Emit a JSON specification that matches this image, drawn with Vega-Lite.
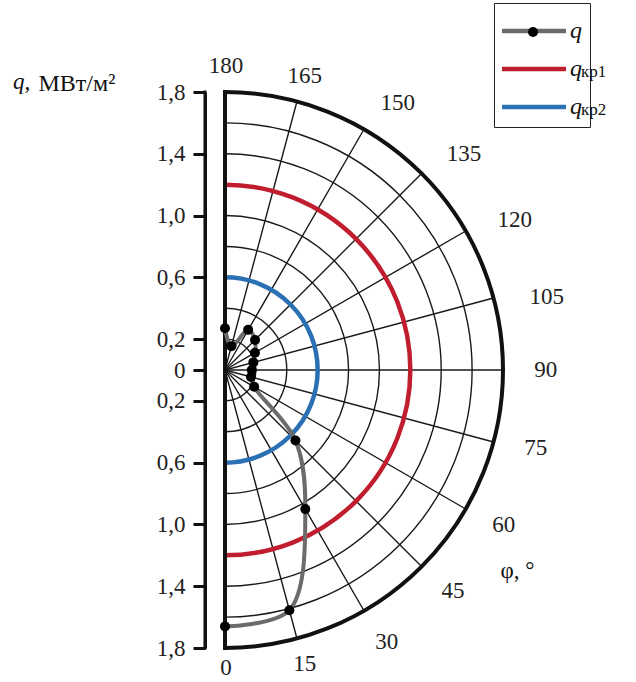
{
  "$schema": "https://vega.github.io/schema/vega-lite/v6.json",
  "width": 298,
  "height": 556,
  "autosize": "none",
  "padding": {"left": 205, "top": 92, "right": 133, "bottom": 34},
  "background": "white",
  "config": {"view": {"stroke": null}, "font": "Liberation Serif"},
  "title": {"text": "q,", "anchor": "start", "frame": "group", "dx": -192, "dy": 109, "offset": 0, "baseline": "alphabetic", "fontStyle": "italic", "fontWeight": "normal", "fontSize": 23, "color": "#111", "font": "Liberation Serif"},
  "datasets": {
    "circles": [{"r": 0.2}, {"r": 0.4}, {"r": 0.6}, {"r": 0.8}, {"r": 1.0}, {"r": 1.2}, {"r": 1.4}, {"r": 1.6}],
    "rays": [{"phi": 0}, {"phi": 15}, {"phi": 30}, {"phi": 45}, {"phi": 60}, {"phi": 75}, {"phi": 90}, {"phi": 105}, {"phi": 120}, {"phi": 135}, {"phi": 150}, {"phi": 165}, {"phi": 180}],
    "crit": [{"series": "qкр1", "q": 1.2}, {"series": "qкр2", "q": 0.6}],
    "qdata": [
      {"series": "q", "phi": 0, "q": 1.66},
      {"series": "q", "phi": 15, "q": 1.61},
      {"series": "q", "phi": 30, "q": 1.04},
      {"series": "q", "phi": 45, "q": 0.645},
      {"series": "q", "phi": 60, "q": 0.218},
      {"series": "q", "phi": 75, "q": 0.174},
      {"series": "q", "phi": 90, "q": 0.173},
      {"series": "q", "phi": 105, "q": 0.19},
      {"series": "q", "phi": 120, "q": 0.224},
      {"series": "q", "phi": 135, "q": 0.275},
      {"series": "q", "phi": 150, "q": 0.3},
      {"series": "q", "phi": 165, "q": 0.16},
      {"series": "q", "phi": 180, "q": 0.27}
    ]
  },
  "layer": [
    {
      "data": {"name": "qdata"},
      "transform": [
        {"calculate": "datum.q * sin(datum.phi * PI / 180)", "as": "qx"},
        {"calculate": "-datum.q * cos(datum.phi * PI / 180)", "as": "qy"}
      ],
      "mark": {"type": "line", "opacity": 0},
      "encoding": {
        "x": {"field": "qx", "type": "quantitative", "scale": {"domain": [-0.1295, 1.8], "nice": false, "zero": false},
          "axis": {"title": "φ, °", "domain": false, "ticks": false, "labels": false, "grid": false, "titleX": 295, "titleY": -71, "titleAlign": "left", "titleBaseline": "alphabetic", "titleFont": "Liberation Serif", "titleFontSize": 23, "titleFontWeight": "normal", "titleColor": "#111"}},
        "y": {"field": "qy", "type": "quantitative", "scale": {"domain": [-1.8, 1.8], "nice": false, "zero": false},
          "axis": {"title": "МВт/м²", "titleAngle": 0, "titleX": -167, "titleY": -2, "titleAlign": "left", "titleBaseline": "alphabetic", "titleFont": "Liberation Serif", "titleFontSize": 24, "titleFontWeight": "normal", "titleColor": "#111",
            "values": [-1.8, -1.4, -1.0, -0.6, -0.2, 0, 0.2, 0.6, 1.0, 1.4, 1.8],
            "labelExpr": "datum.value == 0 ? '0' : replace(format(abs(datum.value), '.1f'), '.', ',')",
            "offset": 0, "zindex": 1, "domain": true, "domainColor": "#111", "domainWidth": 3, "ticks": true, "labels": true, "tickColor": "#111", "tickWidth": 3, "tickSize": 12,
            "labelFont": "Liberation Serif", "labelFontSize": 23, "labelColor": "#222", "labelPadding": 8, "grid": false}}
      }
    },
    {
      "data": {"name": "circles"},
      "mark": {"type": "arc", "filled": false, "stroke": "#1a1a1a", "strokeWidth": 1.4},
      "encoding": {
        "x": {"datum": 0, "type": "quantitative"},
        "y": {"datum": 0, "type": "quantitative"},
        "theta": {"datum": 0, "type": "quantitative", "scale": {"domain": [0, 180], "range": [3.14159265, 0]}},
        "theta2": {"datum": 180},
        "radius": {"field": "r", "type": "quantitative", "scale": {"type": "linear", "domain": [0, 1.8], "range": [0, 278], "zero": true}},
        "radius2": {"field": "r"}
      }
    },
    {
      "data": {"name": "rays"},
      "mark": {"type": "arc", "filled": false, "stroke": "#1a1a1a", "strokeWidth": 1.4},
      "encoding": {
        "x": {"datum": 0, "type": "quantitative"},
        "y": {"datum": 0, "type": "quantitative"},
        "theta": {"field": "phi", "type": "quantitative", "stack": null},
        "theta2": {"field": "phi"},
        "radius": {"datum": 0, "type": "quantitative"},
        "radius2": {"datum": 1.8}
      }
    },
    {
      "data": {"name": "crit"},
      "mark": {"type": "arc", "filled": false, "strokeWidth": 4.5},
      "encoding": {
        "x": {"datum": 0, "type": "quantitative"},
        "y": {"datum": 0, "type": "quantitative"},
        "theta": {"datum": 0, "type": "quantitative"},
        "theta2": {"datum": 180},
        "radius": {"field": "q", "type": "quantitative"},
        "radius2": {"field": "q"},
        "stroke": {"field": "series", "type": "nominal"},
        "opacity": {"field": "series", "type": "ordinal",
          "scale": {"domain": ["qкр1", "qкр2"], "range": [1, 1]},
          "legend": {"orient": "none", "legendX": 359, "legendY": -29, "title": null, "symbolSize": 1, "symbolOpacity": 0, "symbolStrokeWidth": 0,
            "labelExpr": "replace(datum.label, 'q', '')", "labelFont": "Liberation Serif", "labelFontSize": 17, "labelColor": "#111", "labelOffset": 0, "padding": 0, "rowPadding": 20}}
      }
    },
    {
      "data": {"values": [{}]},
      "mark": {"type": "arc", "filled": false, "stroke": "#111", "strokeWidth": 4},
      "encoding": {
        "x": {"datum": 0, "type": "quantitative"},
        "y": {"datum": 0, "type": "quantitative"},
        "theta": {"datum": 0, "type": "quantitative"},
        "theta2": {"datum": 180},
        "radius": {"datum": 1.8, "type": "quantitative"},
        "radius2": {"datum": 1.8}
      }
    },
    {
      "data": {"values": [{}]},
      "mark": {"type": "rule", "stroke": "#111", "strokeWidth": 4, "strokeCap": "square"},
      "encoding": {
        "x": {"datum": 0, "type": "quantitative"},
        "y": {"datum": -1.8, "type": "quantitative"},
        "y2": {"datum": 1.8}
      }
    },
    {
      "data": {"name": "qdata"},
      "transform": [
        {"calculate": "datum.q * sin(datum.phi * PI / 180)", "as": "qx"},
        {"calculate": "-datum.q * cos(datum.phi * PI / 180)", "as": "qy"}
      ],
      "mark": {"type": "line", "interpolate": "catmull-rom", "strokeWidth": 4},
      "encoding": {
        "x": {"field": "qx", "type": "quantitative"},
        "y": {"field": "qy", "type": "quantitative"},
        "order": {"field": "phi"},
        "stroke": {"field": "series", "type": "nominal",
          "scale": {"domain": ["q", "qкр1", "qкр2"], "range": ["#6b6b6b", "#c01e2e", "#2c70b4"]},
          "legend": {"orient": "none", "legendX": 289, "legendY": -89,
            "title": "\u2003\u2003\u2003\u2003\u2003\u2003\u2003\u2003\u2003\u2003\u2003\u2003\u2003\u2003\u2003\u2003\u2009", "titleFontSize": 8, "titlePadding": 0,
            "symbolType": "M-6.4,0H6.4", "symbolSize": 100, "symbolStrokeWidth": 4.5, "symbolOffset": 20,
            "labelExpr": "'q'",
            "labelFont": "Liberation Serif", "labelFontStyle": "italic", "labelFontSize": 24, "labelColor": "#111", "labelOffset": 24,
            "strokeColor": "#222", "fillColor": "white", "padding": 8, "rowPadding": 14}}
      }
    },
    {
      "data": {"name": "qdata"},
      "transform": [
        {"calculate": "datum.q * sin(datum.phi * PI / 180)", "as": "qx"},
        {"calculate": "-datum.q * cos(datum.phi * PI / 180)", "as": "qy"}
      ],
      "mark": {"type": "point", "filled": true, "size": 100, "opacity": 1},
      "encoding": {
        "x": {"field": "qx", "type": "quantitative"},
        "y": {"field": "qy", "type": "quantitative"},
        "fill": {"field": "series", "type": "nominal", "scale": {"domain": ["q"], "range": ["#000000"]},
          "legend": {"orient": "none", "legendX": 322, "legendY": -66, "title": null, "symbolType": "circle", "symbolSize": 100, "labelExpr": "''", "padding": 0, "symbolOpacity": 1}}
      }
    },
    {
      "data": {"name": "rays"},
      "transform": [{"filter": "datum.phi == 0"}],
      "mark": {"type": "text", "fontSize": 23, "color": "#222", "align": "center", "baseline": "middle", "dx": 1, "font": "Liberation Serif"},
      "encoding": {
        "x": {"datum": 0, "type": "quantitative"},
        "y": {"datum": 0, "type": "quantitative"},
        "theta": {"field": "phi", "type": "quantitative"},
        "radius": {"datum": 1.93, "type": "quantitative"},
        "text": {"field": "phi", "type": "nominal"}
      }
    },
    {
      "data": {"name": "rays"},
      "transform": [{"filter": "datum.phi == 15 || datum.phi == 165 || datum.phi == 180"}],
      "mark": {"type": "text", "fontSize": 23, "color": "#222", "align": "center", "baseline": "middle", "dx": 1, "font": "Liberation Serif"},
      "encoding": {
        "x": {"datum": 0, "type": "quantitative"},
        "y": {"datum": 0, "type": "quantitative"},
        "theta": {"field": "phi", "type": "quantitative"},
        "radius": {"datum": 1.97, "type": "quantitative"},
        "text": {"field": "phi", "type": "nominal"}
      }
    },
    {
      "data": {"name": "rays"},
      "transform": [{"filter": "datum.phi >= 30 && datum.phi <= 75"}],
      "mark": {"type": "text", "fontSize": 23, "color": "#222", "align": "center", "baseline": "middle", "dx": 2, "dy": -5, "font": "Liberation Serif"},
      "encoding": {
        "x": {"datum": 0, "type": "quantitative"},
        "y": {"datum": 0, "type": "quantitative"},
        "theta": {"field": "phi", "type": "quantitative"},
        "radius": {"datum": 2.07, "type": "quantitative"},
        "text": {"field": "phi", "type": "nominal"}
      }
    },
    {
      "data": {"name": "rays"},
      "transform": [{"filter": "datum.phi == 90"}],
      "mark": {"type": "text", "fontSize": 23, "color": "#222", "align": "center", "baseline": "middle", "dx": 1, "font": "Liberation Serif"},
      "encoding": {
        "x": {"datum": 0, "type": "quantitative"},
        "y": {"datum": 0, "type": "quantitative"},
        "theta": {"field": "phi", "type": "quantitative"},
        "radius": {"datum": 2.07, "type": "quantitative"},
        "text": {"field": "phi", "type": "nominal"}
      }
    },
    {
      "data": {"name": "rays"},
      "transform": [{"filter": "datum.phi >= 105 && datum.phi <= 150"}],
      "mark": {"type": "text", "fontSize": 23, "color": "#222", "align": "center", "baseline": "middle", "dx": 13, "dy": 10, "font": "Liberation Serif"},
      "encoding": {
        "x": {"datum": 0, "type": "quantitative"},
        "y": {"datum": 0, "type": "quantitative"},
        "theta": {"field": "phi", "type": "quantitative"},
        "radius": {"datum": 2.07, "type": "quantitative"},
        "text": {"field": "phi", "type": "nominal"}
      }
    },
    {
      "data": {"values": [{}]},
      "mark": {"type": "rect", "fill": "#111", "opacity": 1},
      "encoding": {
        "x": {"datum": -0.1395, "type": "quantitative"},
        "x2": {"datum": -0.1195},
        "y": {"datum": -1.81, "type": "quantitative"},
        "y2": {"datum": 1.81}
      }
    }
  ]
}
